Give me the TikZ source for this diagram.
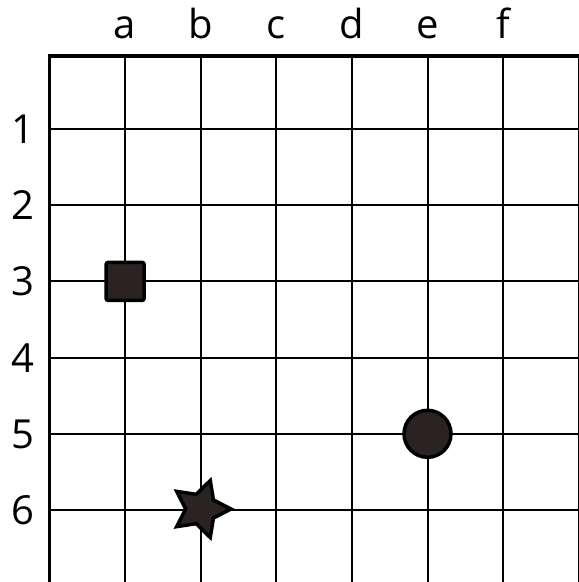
\documentclass[tikz,border=0pt]{standalone}
\usepackage{fontspec}
\setmainfont{Open Sans}
\usetikzlibrary{shapes.geometric}
\definecolor{piece}{HTML}{2B2222}
\tikzset{
  gridline/.style={line width=2pt, black},
  frameline/.style={line width=3.5pt, black},
  lbl/.style={font=\fontsize{40}{48}\selectfont, anchor=base, inner sep=0pt},
  piecebase/.style={fill=piece, draw=black, line width=3.5pt, inner sep=0pt},
  sqpiece/.style={piecebase, rectangle, rounded corners=2pt, minimum size=38pt},
  circpiece/.style={piecebase, circle, minimum size=47pt},
  starpiece/.style={piecebase, star, star points=5, star point ratio=1.95, minimum size=60pt, rotate=-18}
}
\begin{document}
\begin{tikzpicture}[x=1pt,y=-1pt]
\useasboundingbox (0,0) rectangle (579,582);
% inner vertical lines
\foreach \i in {1,...,7} {
  \draw[gridline] ({49.5+75.6*\i},56) -- ({49.5+75.6*\i},582);
}
% inner horizontal lines
\foreach \j in {0,...,5} {
  \draw[gridline] (49.5,{129+76.2*\j}) -- (579,{129+76.2*\j});
}
% frame
\draw[frameline] (49.5,582) -- (49.5,56) -- (579,56);
% column labels
\foreach \c [count=\i] in {a,b,c,d,e,f} {
  \node[lbl] (col\c) at ({49.5+75.6*\i},38) {\c};
}
% row labels
\foreach \r in {1,...,6} {
  \node[lbl] (row\r) at (23,{129+76.2*(\r-1)+14.5}) {\r};
}
% pieces
\node[sqpiece] (square) at (125.1,281.4) {};
\node[circpiece] (disc) at (427.5,433.8) {};
\node[starpiece] (starp) at (201,509) {};
\end{tikzpicture}
\end{document}
